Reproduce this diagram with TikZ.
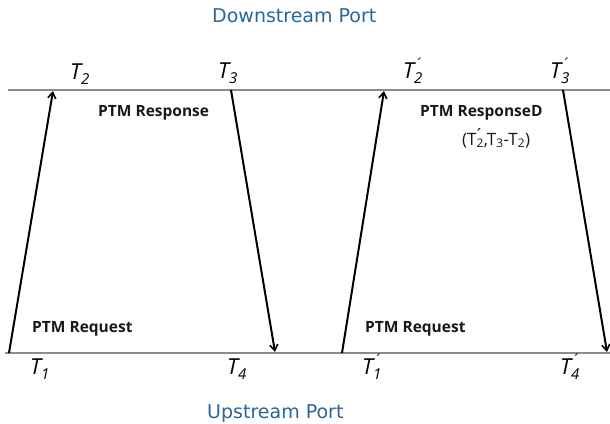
\documentclass[tikz,border=0pt]{standalone}
\usepackage{fontspec}
\setmainfont{Open Sans}
\newfontfamily\portfont{DejaVu Sans}
\usetikzlibrary{arrows.meta}
\definecolor{portblue}{HTML}{2A6699}
\definecolor{lineg}{HTML}{8C8C8C}
\newcommand{\tsub}[1]{\raisebox{-5pt}{\fontsize{15}{15}\selectfont #1}}
\newcommand{\tlab}[1]{\itshape T\tsub{#1}}
\newcommand{\tlabp}[1]{\itshape T\rlap{\raisebox{9pt}{\fontsize{15}{15}\selectfont\kern2pt\char"00B4}}\tsub{#1}}
\begin{document}
\begin{tikzpicture}[x=1pt,y=-1pt,
 port/.style={text=portblue, font=\portfont\fontsize{19}{22}\selectfont, inner sep=0pt, anchor=base west},
 msg/.style={font=\bfseries\fontsize{15.5}{18}\selectfont, inner sep=0pt, anchor=base west, text=black!90},
 tl/.style={font=\fontsize{22}{24}\selectfont, inner sep=0pt, anchor=base west},
 axis/.style={draw=lineg, line width=1.3pt},
 sig/.style={draw=black, line width=2pt, -{Straight Barb[length=6pt,width=8pt,line width=1.6pt]}}]
\path[use as bounding box] (0,0) rectangle (610,423);
% port lines
\coordinate (ds0) at (8,90); \coordinate (ds1) at (610,90);
\coordinate (us0) at (5,353); \coordinate (us1) at (610,353);
\draw[axis] (ds0) -- (ds1);
\draw[axis] (us0) -- (us1);
% signal end points
\coordinate (a1s) at (9,353); \coordinate (a1e) at (53,91);
\coordinate (a2s) at (231,90); \coordinate (a2e) at (275,352);
\coordinate (a3s) at (342,353); \coordinate (a3e) at (384,91);
\coordinate (a4s) at (563,90); \coordinate (a4e) at (607,352);
\draw[sig] (a1s) -- (a1e);
\draw[sig] (a2s) -- (a2e);
\draw[sig] (a3s) -- (a3e);
\draw[sig] (a4s) -- (a4e);
% port titles
\node[port] (dsp) at (212,23) {Downstream Port};
\node[port] (usp) at (207,418) {Upstream Port};
% time labels
\node[tl] (t2) at (70,79) {\tlab{2}};
\node[tl] (t3) at (218,78) {\tlab{3}};
\node[tl] (t2p) at (403,78) {\tlabp{2}};
\node[tl] (t3p) at (550,78) {\tlabp{3}};
\node[tl] (t1) at (30,374) {\tlab{1}};
\node[tl] (t4) at (227,374) {\tlab{4}};
\node[tl] (t1p) at (362,374) {\tlabp{1}};
\node[tl] (t4p) at (560,374) {\tlabp{4}};
% messages
\node[msg] (resp) at (98,116) {PTM Response};
\node[msg] (respd) at (420,116) {PTM ResponseD};
\node[font=\fontsize{17}{19}\selectfont, inner sep=0pt, anchor=base west, text=black!90] (tv) at (462,145)
  {(T\textsubscript{2}\llap{\raisebox{4pt}{\char"00B4}},T\textsubscript{3}-T\textsubscript{2})};
\node[msg] (req1) at (32,332) {PTM Request};
\node[msg] (req2) at (365,332) {PTM Request};
\end{tikzpicture}
\end{document}
